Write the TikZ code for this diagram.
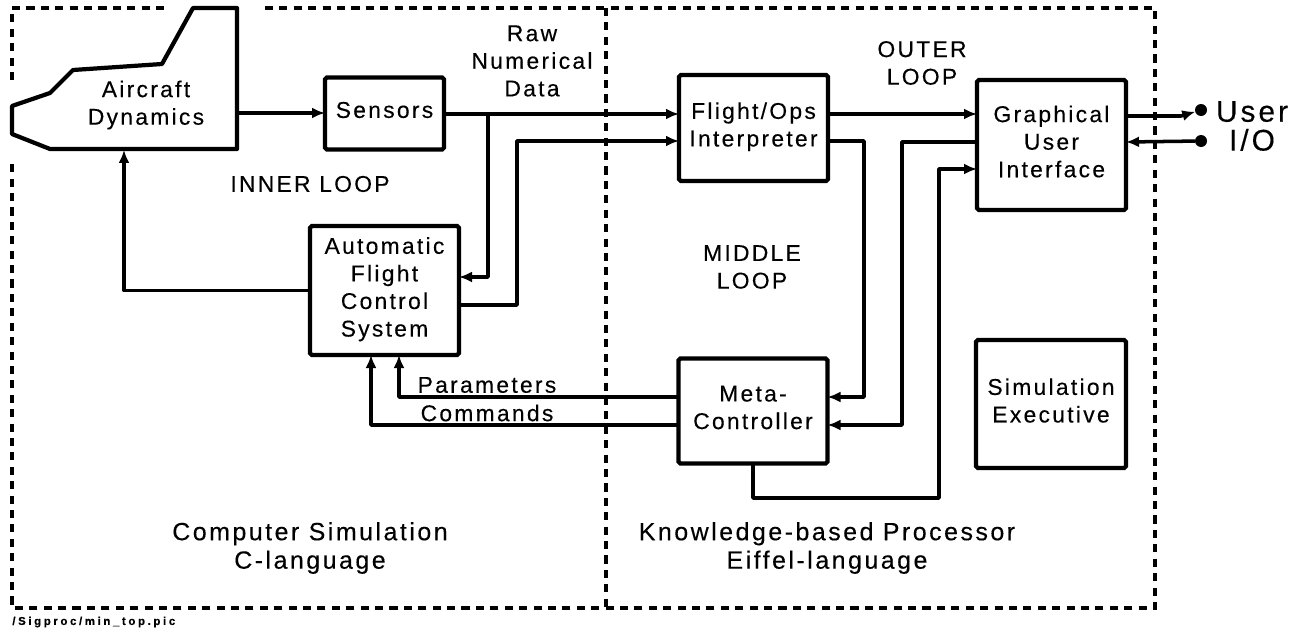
\documentclass[tikz,border=0pt]{standalone}
\usepackage{fontspec}
\usepackage{tikz}
\setmainfont[LetterSpace=10,FakeBold=0.25]{Liberation Sans}
\usetikzlibrary{arrows.meta}

\begin{document}
\begin{tikzpicture}[x=0.02cm,y=-0.02cm,
        boxnode/.style={rectangle, draw=black, line width=2.4pt, rounded corners=1pt, outer sep=0pt, align=center, text depth=4.1pt, font=\fontsize{13}{15.7}\selectfont},
        textnode/.style={align=center, font=\fontsize{13}{15.7}\selectfont},
        bignode/.style={align=center, font=\fontsize{14.2}{16.2}\selectfont},
        dotnode/.style={circle, fill=black, inner sep=0pt, minimum size=12*0.02cm, outer sep=0pt}]
            \useasboundingbox (0,0) rectangle (1301,632);

            \tikzset{link/.style={line width=2pt, line join=round}}
            \tikzset{tolink/.style={link, -{Latex[length=2.6mm,width=2.2mm]}}}
            \tikzset{dashline/.style={line width=2.8pt, dash pattern=on 4.6pt off 3.6pt}}

            \node[boxnode, minimum width=2.38cm, minimum height=1.44cm] (S) at (384.5,113.5) {Sensors};
            \node[boxnode, minimum width=2.98cm, minimum height=2.58cm] (AF) at (384.5,290.5) {Automatic\\Flight\\Control\\System};
            \node[boxnode, minimum width=2.98cm, minimum height=2.12cm] (FI) at (753.5,128) {Flight/Ops\\Interpreter};
            \node[boxnode, minimum width=2.98cm, minimum height=2.10cm] (MC) at (753,411) {Meta-\\Controller};
            \node[boxnode, minimum width=2.98cm, minimum height=2.60cm] (GU) at (1051.5,145) {Graphical\\User\\Interface};
            \node[boxnode, minimum width=3.00cm, minimum height=2.56cm] (SE) at (1051,404) {Simulation\\Executive};

            \node[textnode] (AC) at (146,105) {Aircraft\\Dynamics};
            \node[textnode] (RD) at (532,61) {Raw\\Numerical\\Data};
            \node[textnode] (IL) at (310,184) {INNER LOOP};
            \node[textnode] (ML) at (752,267) {MIDDLE\\LOOP};
            \node[textnode] (OL) at (922,63) {OUTER\\LOOP};
            \node[textnode] (PA) at (487,385) {Parameters};
            \node[textnode] (CO) at (487,413) {Commands};
            \node[bignode] (CS) at (310,548) {Computer Simulation\\C-language};
            \node[bignode] (KP) at (827,548) {Knowledge-based Processor\\Eiffel-language};
            \node[align=center, font=\fontsize{17}{16.4}\selectfont] (UI) at (1252,126) {User\\I/O};
            \node[anchor=west, inner sep=0pt, font=\fontsize{6.5}{8}\selectfont\bfseries\addfontfeature{LetterSpace=23}] (FN) at (12,622) {/Sigproc/min\_top.pic};

            \node[dotnode] (U1) at (1201,110) {};
            \node[dotnode] (U2) at (1201,141) {};

            % aircraft outline
            \coordinate (A1) at (193,8);
            \coordinate (A2) at (237,8);
            \coordinate (A3) at (237,149);
            \coordinate (A4) at (50,149);
            \coordinate (A5) at (12,134);
            \coordinate (A6) at (12,106);
            \coordinate (A7) at (50,93);
            \coordinate (A8) at (73,70);
            \coordinate (A9) at (162,64);
            \draw[line width=2.4pt, line join=round] (A1) -- (A2) -- (A3) -- (A4) -- (A5) -- (A6) -- (A7) -- (A8) -- (A9) -- cycle;

            % dashed frame
            \coordinate (D1) at (12,80);
            \coordinate (D2) at (12,8);
            \coordinate (D3) at (164,8);
            \coordinate (D4) at (265,8);
            \coordinate (D5) at (1155,8);
            \coordinate (D6) at (1155,608);
            \coordinate (D7) at (12,608);
            \coordinate (D8) at (12,163);
            \coordinate (D9) at (606,8);
            \coordinate (D10) at (606,608);
            \draw[dashline] (D1) -- (D2) -- (D3);
            \draw[dashline] (D4) -- (D5) -- (D6) -- (D7) -- (D8);
            \draw[dashline] (D9) -- (D10);

            % junctions and corners of the connectors
            \coordinate (ACe) at (237,113);
            \coordinate (ACb) at (124,150);
            \coordinate (J) at (488,114);
            \coordinate (AFi) at (459,277);
            \coordinate (AFo) at (459,305);
            \coordinate (T1) at (517,305);
            \coordinate (FIi) at (679,141);
            \coordinate (FIo) at (828,141);
            \coordinate (T2) at (864,141);
            \coordinate (MCa) at (827.5,397);
            \coordinate (MCb) at (827.5,425);
            \coordinate (T3) at (902,425);
            \coordinate (GUa) at (977,142);
            \coordinate (GUb) at (977,169);
            \coordinate (GUc) at (977,114);
            \coordinate (FIc) at (828,114);
            \coordinate (MCc) at (753,463.5);
            \coordinate (T4) at (753,498);
            \coordinate (T5) at (939,498);
            \coordinate (MCd) at (678.5,397);
            \coordinate (MCe) at (678.5,425);
            \coordinate (AFa) at (399,355);
            \coordinate (AFb) at (371,355);
            \coordinate (GUd) at (1126,116);
            \coordinate (GUe) at (1126,142);
            \coordinate (K) at (1181,116);

            \draw[tolink] (ACe) -- (S.west |- ACe);
            \draw[tolink] (S.east |- J) -- (FI.west |- J);
            \draw[tolink] (J) |- (AFi);
            \draw[tolink] (AF.west) -| (ACb);
            \draw[tolink] (AFo) -- (T1) |- (FIi);
            \draw[tolink] (FIc) -- (GUc);
            \draw[tolink] (FIo) -- (T2) |- (MCa);
            \draw[tolink] (GUa) -| (T3) -- (MCb);
            \draw[tolink] (MCc) -- (T4) -- (T5) |- (GUb);
            \draw[tolink] (MCd) -| (AFa);
            \draw[tolink] (MCe) -| (AFb);
            \draw[tolink] (GUd) -- (K) -- (U1);
            \draw[tolink] (U2) -- (GUe);

        \end{tikzpicture}
\end{document}
